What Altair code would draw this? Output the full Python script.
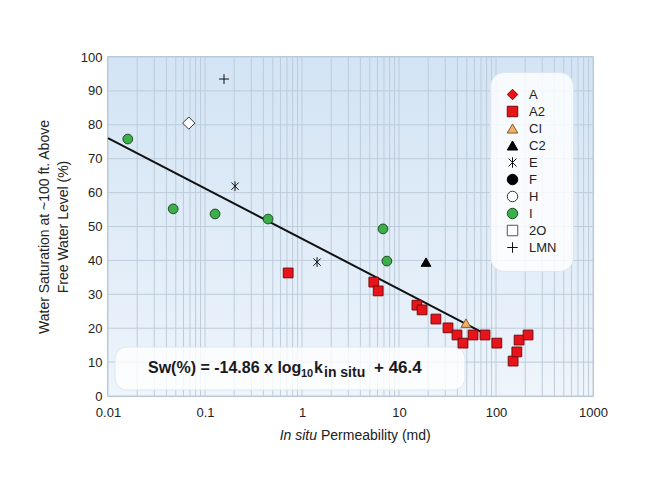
import altair as alt
import pandas as pd

# ---------------- data ----------------
series_order = ["A", "A2", "CI", "C2", "E", "F", "H", "I", "2O", "LMN"]

A2_k = [0.72, 5.5, 6.1, 15.3, 17.3, 24, 32, 39.6, 45.7, 58, 77, 102, 150, 164, 173, 214]
A2_sw = [36.3, 33.6, 31.0, 26.8, 25.4, 22.7, 20.1, 18.0, 15.6, 18.0, 18.0, 15.6, 10.3, 13.0, 16.5, 18.0]
I_k = [0.016, 0.047, 0.127, 0.447, 6.84, 7.5]
I_sw = [75.8, 55.2, 53.7, 52.2, 49.3, 39.8]
E_k = [0.204, 1.43]
E_sw = [61.9, 39.5]
C2_k = [19]
C2_sw = [39.5]
CI_k = [49]
CI_sw = [21.5]
LMN_k = [0.157]
LMN_sw = [93.5]
open_diamond_k = [0.068]
open_diamond_sw = [80.5]

fit_k = [0.01, 72]
fit_sw = [76.1, 18.8]

x_label_values = ["0.01", "0.1", "1", "10", "100", "1000"]
y_tick_values = [0, 10, 20, 30, 40, 50, 60, 70, 80, 90, 100]

# ---------------- styles ----------------
ASTERISK = "M0,-1L0,1M-0.75,-0.75L0.75,0.75M-0.75,0.75L0.75,-0.75"
PLUS = "M-1,0L1,0M0,-1L0,1"
shape_range = ["diamond", "square", "triangle-up", "triangle-up", ASTERISK,
               "circle", "circle", "circle", "square", PLUS]
fill_range = ["#e8141c", "#e8141c", "#f5b064", "#000000", "#000000",
              "#000000", "#ffffff", "#3daf4a", "#ffffff", "#000000"]
stroke_range = ["#7a0a0a", "#7a0a0a", "#7a5a30", "#000000", "#111111",
                "#000000", "#333333", "#1d4f22", "#555555", "#111111"]

FONT = "Liberation Sans"
W, H = 485, 339
GRID = "#bdccda"

rows = []
for s, ks, sws in [("A2", A2_k, A2_sw), ("I", I_k, I_sw), ("E", E_k, E_sw),
                   ("C2", C2_k, C2_sw), ("CI", CI_k, CI_sw), ("LMN", LMN_k, LMN_sw)]:
    for k, sw in zip(ks, sws):
        rows.append({"series": s, "k": k, "sw": sw})
pts = pd.DataFrame(rows)
fit = pd.DataFrame({"k": fit_k, "sw": fit_sw})
diamond = pd.DataFrame({"k": open_diamond_k, "sw": open_diamond_sw})

grid_values = []
for d in [0.01, 0.1, 1, 10, 100]:
    for m in range(1, 10):
        grid_values.append(round(d * m, 6))
grid_values.append(1000)
vgrid = pd.DataFrame({"k": grid_values})
hgrid = pd.DataFrame({"sw": y_tick_values})

xscale = alt.Scale(type="log", domain=[0.01, 1000])
yscale = alt.Scale(domain=[0, 100])

label_list = "[" + ",".join("'" + v + "'" for v in x_label_values) + "]"
x_axis = alt.Axis(values=grid_values, grid=False,
                  domain=False, ticks=False, labelOverlap=False, labelFlush=False,
                  labelExpr="indexof(" + label_list + ", format(datum.value,'~g')) >= 0 ? format(datum.value,'~g') : ''",
                  labelFont=FONT, labelFontSize=13, labelColor="#222222", labelPadding=10,
                  title="")
y_axis = alt.Axis(values=y_tick_values, grid=False,
                  domain=False, ticks=False, labelFont=FONT, labelFontSize=13,
                  labelColor="#222222", labelPadding=6, labelFlush=False,
                  title=["Water Saturation at ~100 ft. Above", "Free Water Level (%)"],
                  titleFont=FONT, titleFontSize=14, titleFontWeight="normal",
                  titleColor="#222222", titleLineHeight=19, titlePadding=10)

X = alt.X("k:Q", scale=xscale, axis=x_axis)
Y = alt.Y("sw:Q", scale=yscale, axis=y_axis)

one = alt.Data(values=[{}])

bg = alt.Chart(one).mark_rect(
    color=alt.LinearGradient(gradient="linear",
                             stops=[alt.GradientStop(color="#d3e4f4", offset=0),
                                    alt.GradientStop(color="#e2edf8", offset=0.6),
                                    alt.GradientStop(color="#eef5fb", offset=1)],
                             x1=0, x2=0, y1=0, y2=1)
).encode(x=alt.value(0), x2=alt.value(W), y=alt.value(0), y2=alt.value(H))

vrules = alt.Chart(vgrid).mark_rule(color=GRID, strokeWidth=1).encode(x=X)
hrules = alt.Chart(hgrid).mark_rule(color=GRID, strokeWidth=1).encode(y=Y)

eq_box = alt.Chart(one).mark_rect(
    cornerRadius=12, color="#ffffff", opacity=0.82, stroke="#dce5ee", strokeWidth=1
).encode(x=alt.value(7), x2=alt.value(357), y=alt.value(290), y2=alt.value(333))

line = alt.Chart(fit).mark_line(color="#111111", strokeWidth=2).encode(x=X, y=Y)

legend = alt.Legend(orient="none", legendX=382, legendY=15,
                    fillColor="rgba(255,255,255,0.82)", strokeColor="#dde6ef",
                    cornerRadius=14, padding=16, labelFont=FONT, labelFontSize=13,
                    labelColor="#222222", symbolSize=110, rowPadding=2,
                    symbolStrokeWidth=1, labelOffset=10)

points = alt.Chart(pts).mark_point(filled=True, size=95, strokeWidth=1, opacity=1).encode(
    x=X,
    y=Y,
    shape=alt.Shape("series:N", scale=alt.Scale(domain=series_order, range=shape_range),
                    legend=legend, title=None),
    fill=alt.Fill("series:N", scale=alt.Scale(domain=series_order, range=fill_range),
                  legend=legend, title=None),
    stroke=alt.Stroke("series:N", scale=alt.Scale(domain=series_order, range=stroke_range),
                      legend=legend, title=None),
)

open_d = alt.Chart(diamond).mark_point(shape="diamond", filled=True, fill="#ffffff",
                                       stroke="#333333", strokeWidth=1, size=150, opacity=1).encode(
    x=X, y=Y)

eq_parts = pd.DataFrame({
    "t": ["Sw(%) = -14.86 x log", "10", "k", "in situ", "+ 46.4"],
    "px": [40, 193, 206, 216, 266],
    "py": [316, 320, 316, 320, 316],
    "fs": [16, 11, 16, 14, 17],
})
eq_texts = []
for _, r in eq_parts.iterrows():
    eq_texts.append(alt.Chart(one).mark_text(
        text=r["t"], font=FONT, fontSize=int(r["fs"]), fontWeight="bold", color="#1a1a1a",
        align="left", baseline="alphabetic"
    ).encode(x=alt.value(int(r["px"])), y=alt.value(int(r["py"]))))

xt1 = alt.Chart(one).mark_text(text="In situ", font=FONT, fontSize=14, fontStyle="italic",
                               color="#222222", align="right", baseline="alphabetic").encode(
    x=alt.value(209), y=alt.value(383))
xt2 = alt.Chart(one).mark_text(text="Permeability (md)", font=FONT, fontSize=14,
                               color="#222222", align="left", baseline="alphabetic").encode(
    x=alt.value(213), y=alt.value(383))

chart = alt.layer(bg, vrules, hrules, line, eq_box, *eq_texts, points, open_d, xt1, xt2).properties(
    width=W, height=H,
    autosize=alt.AutoSizeParams(type="none"),
    padding={"left": 108, "top": 57, "right": 55, "bottom": 90},
    background="#ffffff",
).configure_view(stroke="#9fb2c4", strokeWidth=1.5)

chart.save("out.html", embed_options={"renderer": "svg", "actions": False})
